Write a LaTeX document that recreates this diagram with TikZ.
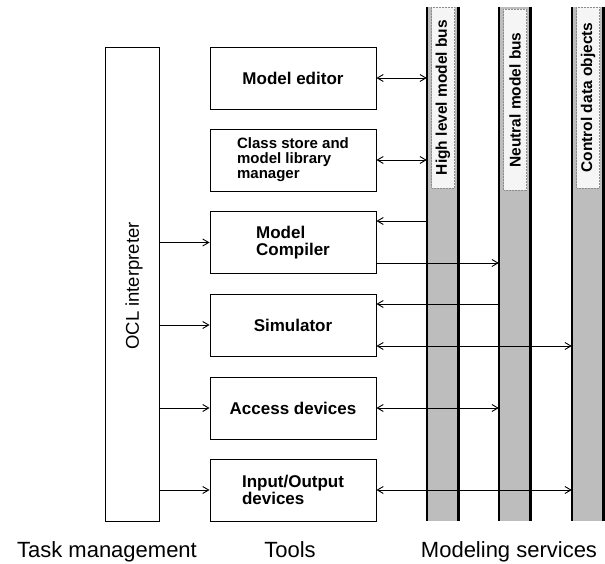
\documentclass[tikz,border=0pt]{standalone}
\usepackage{fontspec}
\setmainfont{Liberation Sans}
\usetikzlibrary{arrows.meta}
\tikzset{
  tool/.style={draw, line width=0.9pt, minimum width=166pt, minimum height=62pt, inner sep=0pt, align=left, font=\fontsize{17}{17}\selectfont\bfseries},
  busfill/.style={fill=black!26, draw=none, minimum width=31pt, minimum height=514pt, inner sep=0pt},
  busline/.style={line width=2.6pt},
  buslabel/.style={rotate=90, fill=black!4, draw=black!45, densely dotted, line width=0.5pt, minimum width=181pt, minimum height=23pt, inner sep=0pt, font=\fontsize{15.5}{15.5}\selectfont\bfseries},
  conn/.style={line width=0.9pt, -{Straight Barb[length=6pt,width=7pt]}},
  dconn/.style={line width=0.9pt, {Straight Barb[length=6pt,width=7pt]}-{Straight Barb[length=6pt,width=7pt]}},
  caption/.style={anchor=base, font=\fontsize{22}{22}\selectfont},
}
\begin{document}
\begin{tikzpicture}[x=1pt,y=-1pt]
\useasboundingbox (0,0) rectangle (605,564);
% buses
\node[busfill] (hb) at (442.5,264) {};
\node[busfill] (nb) at (514.5,264) {};
\node[busfill] (cb) at (587.5,264) {};
\foreach \b in {hb,nb,cb}{
  \draw[busline] (\b.north west) -- (\b.south west);
  \draw[busline] (\b.north east) -- (\b.south east);
}
\node[buslabel] (hbl) at (443,97.5) {High level model bus};
\node[buslabel] (nbl) at (515,100) {Neutral model bus};
\node[buslabel] (cbl) at (588,97.5) {Control data objects};
% task management
\node[draw, line width=0.9pt, minimum width=54pt, minimum height=474pt, inner sep=0pt] (ocl) at (132,284) {};
\node[rotate=90, font=\fontsize{18.5}{18.5}\selectfont] (ocltext) at (134,286) {OCL interpreter};
% tools
\node[tool] (editor) at (293,78) {Model editor};
\node[tool, font=\fontsize{15}{15}\selectfont\bfseries] (store) at (293,160) {Class store and\\model library\\manager};
\node[tool] (compiler) at (293,242.5) {Model\\Compiler};
\node[tool] (sim) at (293,325) {Simulator};
\node[tool] (access) at (293,408) {Access devices};
\node[tool] (io) at (293,490) {Input/Output\\devices};
% OCL arrows
\foreach \t in {compiler,sim,access,io}{
  \draw[conn] (ocl.east |- \t.west) -- (\t.west);
}
% bus connections
\draw[dconn] (editor.east) -- (editor.east -| hb.west);
\draw[dconn] (store.east) -- (store.east -| hb.west);
\draw[conn] ([yshift=21.5pt]compiler.east -| hb.west) -- ([yshift=21.5pt]compiler.east);
\draw[conn] ([yshift=-20.5pt]compiler.east) -- ([yshift=-20.5pt]compiler.east -| nb.west);
\draw[conn] ([yshift=21pt]sim.east -| nb.west) -- ([yshift=21pt]sim.east);
\draw[dconn] ([yshift=-21pt]sim.east) -- ([yshift=-21pt]sim.east -| cb.west);
\draw[dconn] (access.east) -- (access.east -| nb.west);
\draw[dconn] (io.east) -- (io.east -| cb.west);
% captions
\node[caption] (c1) at (107,557) {Task management};
\node[caption] (c2) at (290,557) {Tools};
\node[caption] (c3) at (509,557) {Modeling services};
\end{tikzpicture}
\end{document}
